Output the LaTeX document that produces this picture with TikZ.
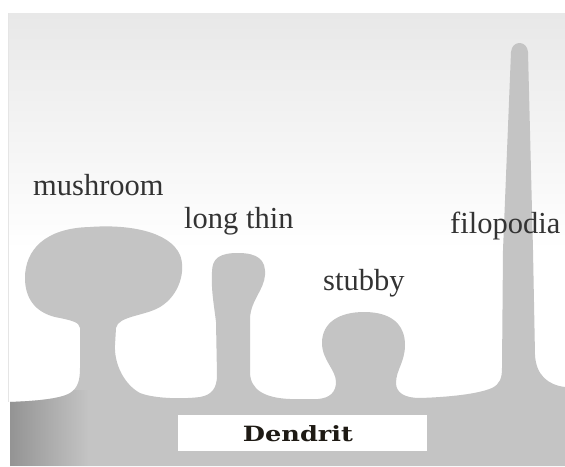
\documentclass[tikz,border=0pt]{standalone}
\usepackage{fontspec}
\usetikzlibrary{fadings}
\setmainfont{Liberation Serif}
\newfontfamily\boxfont{DejaVu Serif}
\tikzfading[name=fade to right, left color=transparent!0, right color=transparent!100]
\begin{document}
\begin{tikzpicture}[x=1pt,y=-1pt,
  label/.style={anchor=base west,inner sep=0pt,text=labelgray,font=\fontsize{30.5}{34}\selectfont},
  spine/.style={fill=spinegray,draw=none}]
\definecolor{labelgray}{HTML}{333333}
\definecolor{spinegray}{HTML}{C4C4C4}
\definecolor{panelgray}{HTML}{E8E8E8}
\definecolor{shadegray}{HTML}{949494}
\definecolor{inkdark}{HTML}{1E1A14}
\useasboundingbox (0,0) rectangle (565,466);
\fill[white] (0,0) rectangle (565,466);
% pale backdrop, fading to white downwards
\shade[top color=panelgray,bottom color=white] (8,13) rectangle (565,250);
\draw[black!10,line width=0.8pt] (8.4,13) -- (8.4,402);
% dendrite shaft with its spines as one outline
\path[spine,save path=\dendoutline] (10,466) -- (10,402)
  .. controls (35,401) and (60,399) .. (70,393)
  .. controls (78,388) and (80,380) .. (80,368)
  -- (80,328)
  .. controls (80,322) and (70,320) .. (55,317)
  .. controls (35,312) and (25,298) .. (25,278)
  .. controls (25,250) and (45,228) .. (90,227)
  .. controls (130,224) and (170,232) .. (180,255)
  .. controls (186,270) and (180,295) .. (160,307)
  .. controls (145,316) and (118,316) .. (116,328)
  -- (115,345)
  .. controls (114,365) and (125,385) .. (140,393)
  .. controls (155,399) and (185,399) .. (200,397)
  .. controls (212,395) and (217,388) .. (217,375)
  -- (216,322)
  .. controls (214,305) and (211,290) .. (212,272)
  .. controls (212,258) and (220,253) .. (238,253)
  .. controls (258,253) and (266,260) .. (265,275)
  .. controls (264,290) and (251,300) .. (250,318)
  -- (250,372)
  .. controls (250,390) and (265,398) .. (290,399)
  -- (318,399)
  .. controls (330,398) and (336,392) .. (336,382)
  .. controls (336,370) and (322,360) .. (322,343)
  .. controls (322,322) and (340,312) .. (364,312)
  .. controls (392,312) and (405,325) .. (405,345)
  .. controls (405,362) and (396,370) .. (396,383)
  .. controls (396,393) and (405,398) .. (420,398)
  .. controls (450,397) and (478,394) .. (492,388)
  .. controls (500,384) and (502,378) .. (502,368)
  -- (503,250)
  -- (511,52)
  .. controls (512,40) and (527,40) .. (528,52)
  -- (533,250)
  -- (535,355)
  .. controls (536,375) and (548,385) .. (565,387)
  -- (565,466) -- cycle;
% darker shading at the left end of the shaft
\begin{scope}
  \clip[use path=\dendoutline];
  \fill[shadegray,path fading=fade to right] (10,390) rectangle (88,466);
\end{scope}
% labels
\node[label] (mush) at (33,195) {mushroom};
\node[label] (thin) at (184,228) {long thin};
\node[label] (stub) at (323,290) {stubby};
\node[label] (filo) at (450,233) {filopodia};
% dendrite caption
\node[fill=white,minimum width=249pt,minimum height=36pt,inner sep=0pt] (dbox) at (302.5,433) {};
\node[anchor=base,inner sep=0pt,text=inkdark,font=\boxfont\bfseries\fontsize{21}{24}\selectfont] (dtext) at (298,441) {\scalebox{1.22}[1]{Dendrit}};
\end{tikzpicture}
\end{document}
